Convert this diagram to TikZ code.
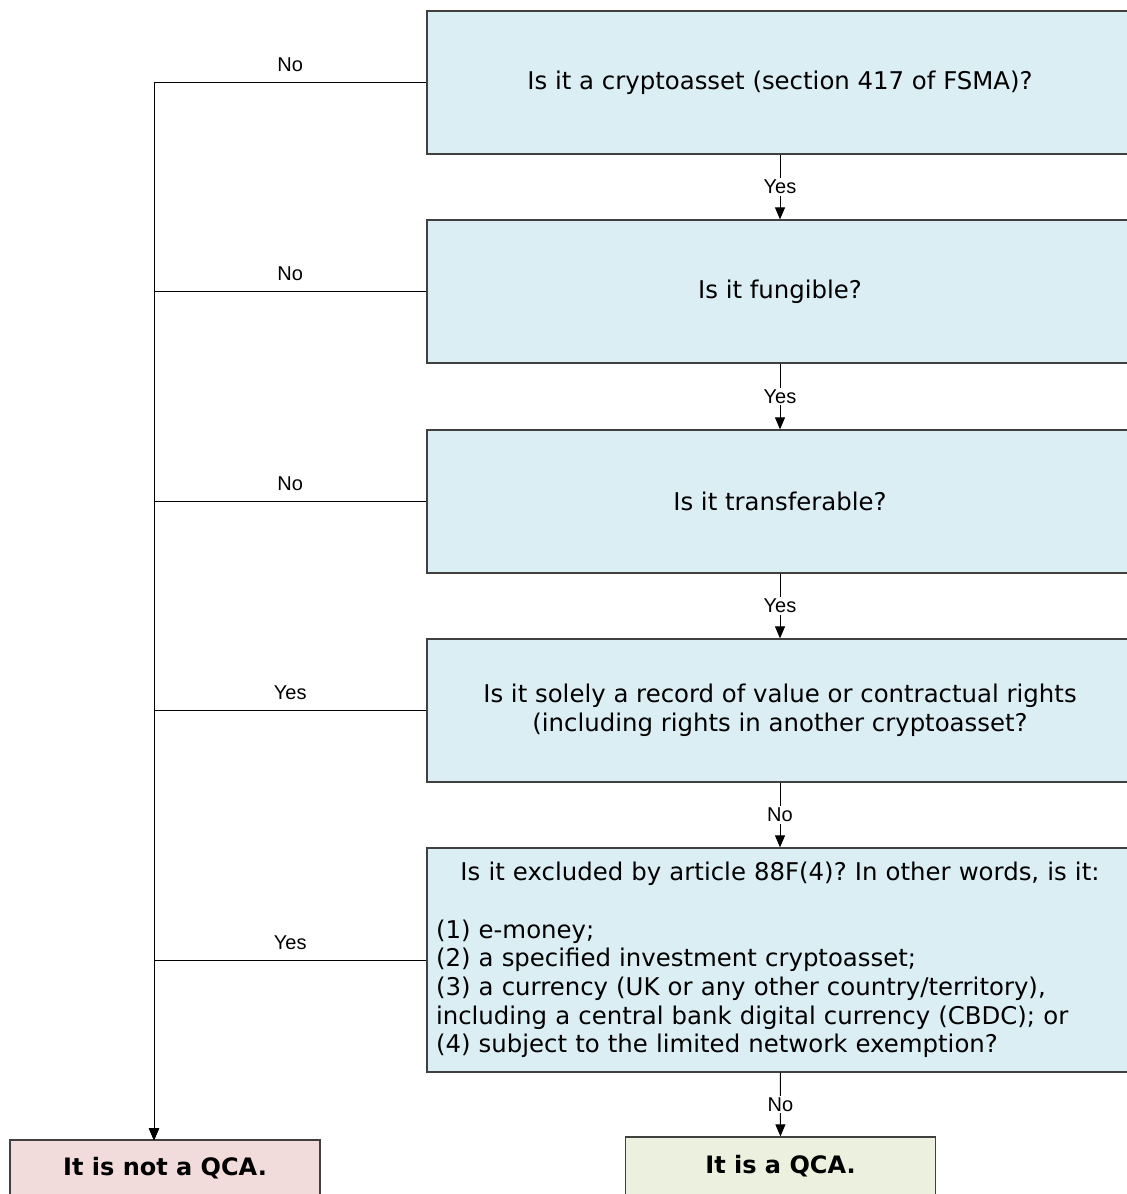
\documentclass[tikz,border=0pt]{standalone}
\usepackage{fontspec}
\setmainfont{DejaVu Sans}
\newfontfamily\lblfont{Liberation Sans}
\usetikzlibrary{arrows.meta,positioning}
\definecolor{qfill}{HTML}{DBEEF4}
\definecolor{nofill}{HTML}{F2DCDB}
\definecolor{yesfill}{HTML}{EBF1DE}
\definecolor{bord}{HTML}{404040}
\frenchspacing
\begin{document}
\begin{tikzpicture}[
  x=1pt, y=-1pt,
  font=\fontsize{24.4}{28.7}\selectfont,
  q/.style={draw=bord, line width=1.3pt, fill=qfill, align=center,
            minimum width=706pt, inner sep=8pt},
  res/.style={draw=bord, line width=1.3pt, align=center, minimum width=310pt,
              font=\bfseries\fontsize{24}{28}\selectfont},
  edge/.style={draw=black, line width=1pt, -{Triangle[length=12pt,width=10pt]}},
  lbl/.style={font=\lblfont\fontsize{20}{22}\selectfont, inner sep=2pt}
]
\useasboundingbox (0,0) rectangle (1127,1194);
\clip (0,0) rectangle (1127,1194);
\node[q, minimum height=143pt] (q1) at (780,82.5) {Is it a cryptoasset (section 417 of FSMA)?};
\node[q, minimum height=143pt] (q2) at (780,291.5) {Is it fungible?};
\node[q, minimum height=143pt] (q3) at (780,501.5) {Is it transferable?};
\node[q, minimum height=143pt] (q4) at (780,710.5) {Is it solely a record of value or contractual rights\\(including rights in another cryptoasset?};
\node[q, minimum height=224pt, text width=688pt, align=left] (q5) at (780,960)
  {\makebox[688pt][c]{Is it excluded by article 88F(4)? In other words, is it:}\\[28.7pt]
   (1) e-money;\\
   (2) a specified investment cryptoasset;\\
   (3) a currency (UK or any other country/territory),\\
   including a central bank digital currency (CBDC); or\\
   (4) subject to the limited network exemption?};
\node[res, fill=nofill, minimum height=56pt] (notqca) at (165,1168) {It is not a QCA.};
\node[res, fill=yesfill, minimum height=58pt] (isqca) at (780.5,1166) {It is a QCA.};
\coordinate (sink) at (154,1140);
% yes / no chain down the middle
\draw[edge] (q1) -- node[lbl, fill=white]{Yes} (q2);
\draw[edge] (q2) -- node[lbl, fill=white]{Yes} (q3);
\draw[edge] (q3) -- node[lbl, fill=white]{Yes} (q4);
\draw[edge] (q4) -- node[lbl, fill=white]{No} (q5);
\draw[edge] (q5) -- node[lbl, fill=white]{No} (isqca);
% branches to the left
\draw[edge] (q1.west) -- node[lbl, above=8pt]{No} (q1.west -| sink) -- (sink);
\draw[edge] (q2.west) -- node[lbl, above=8pt]{No} (q2.west -| sink) -- (sink);
\draw[edge] (q3.west) -- node[lbl, above=8pt]{No} (q3.west -| sink) -- (sink);
\draw[edge] (q4.west) -- node[lbl, above=8pt]{Yes} (q4.west -| sink) -- (sink);
\draw[edge] (q5.west) -- node[lbl, above=8pt]{Yes} (q5.west -| sink) -- (sink);
\end{tikzpicture}
\end{document}
